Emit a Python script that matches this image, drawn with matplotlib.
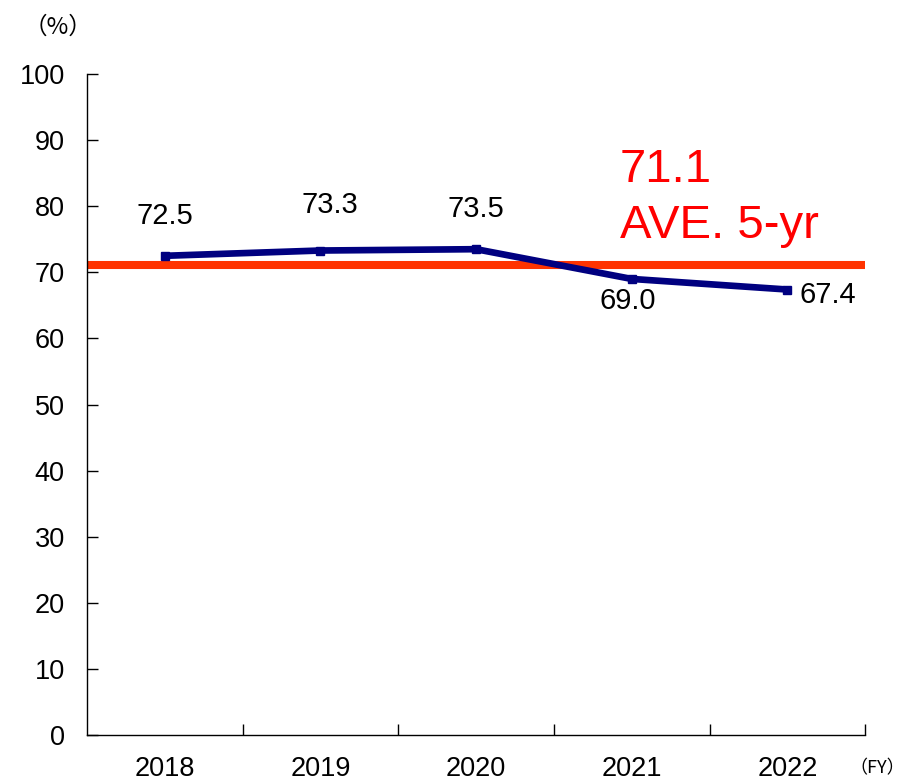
import numpy as np
import matplotlib.pyplot as plt

plt.rcParams['font.family'] = ['Liberation Sans', 'DejaVu Sans']

years = ['2018', '2019', '2020', '2021', '2022']
ratio = [72.5, 73.3, 73.5, 69.0, 67.4]
average = 71.1
avg_value = '71.1'
avg_text = 'AVE. 5-yr'

# label offsets in points (dx, dy)
offsets = [(0, 29), (7, 33), (0, 29), (-3, -16), (29, -4)]

fig = plt.figure(figsize=(9.08, 7.81), dpi=100)
ax = fig.add_axes([0.0958, 0.0589, 0.857, 0.8463])

x = np.arange(len(years))
ax.axhline(average, color='#FF3300', lw=5.8, zorder=2)
ax.plot(x, ratio, color='#000080', lw=4.8, marker='s', ms=6, zorder=3)

for xi, v, (dx, dy) in zip(x, ratio, offsets):
    ax.annotate(f'{v:.1f}', (xi, v), xytext=(dx, dy), textcoords='offset points',
                ha='center', va='center', fontsize=21)

ax.text(2.925, 83.7, avg_value, color='#FF0000', fontsize=34, ha='left', va='baseline')
ax.text(2.925, 75.2, avg_text, color='#FF0000', fontsize=34, ha='left', va='baseline')

ax.set_xlim(-0.5, 4.5)
ax.set_ylim(0, 100)
ax.set_yticks(np.arange(0, 101, 10))
ax.set_xticks(x)
ax.set_xticklabels(years)
ax.set_xticks(np.arange(0.5, 4.6, 1), minor=True)
ax.tick_params(axis='x', which='major', length=0, pad=15, labelsize=19.5)
ax.tick_params(axis='x', which='minor', direction='in', length=8, width=1)
ax.tick_params(axis='y', direction='in', length=8, width=1, pad=16, labelsize=19.5)
for s in ['top', 'right']:
    ax.spines[s].set_visible(False)
for s in ['left', 'bottom']:
    ax.spines[s].set_linewidth(1)

fig.text(0.064, 0.965, '（%）', fontsize=17, ha='center', va='center',
         family=['Noto Sans CJK JP', 'DejaVu Sans'])
fig.text(0.966, 0.016, '（FY）', fontsize=13, ha='center', va='center',
         family=['Noto Sans CJK JP', 'DejaVu Sans'])

fig.savefig('out.png', dpi=100)
